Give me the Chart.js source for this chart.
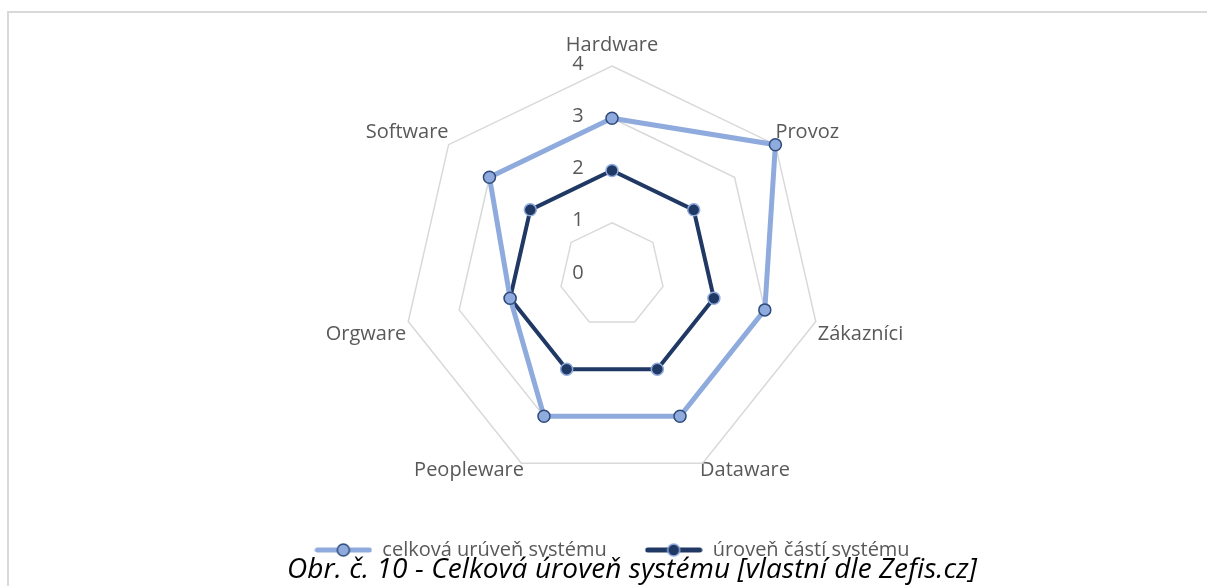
<!DOCTYPE html>
<html><head><meta charset="utf-8">
<script src="https://cdn.jsdelivr.net/npm/chart.js@4.4.1/dist/chart.umd.min.js"></script>
<style>
html,body{margin:0;padding:0;background:#fff;width:1207px;height:586px;overflow:hidden;}
#frame{position:absolute;left:7px;top:11px;width:1220px;height:600px;border-left:2px solid #d9d9d9;border-top:2px solid #d9d9d9;}
#wrap{position:absolute;left:9px;top:13px;width:1206px;height:573px;}
#cap{position:absolute;left:279px;top:557px;height:30px;padding:0 8px;background:#fff;font-family:"Open Sans";font-style:italic;font-size:28px;line-height:20px;color:#000;white-space:nowrap;letter-spacing:0.1px;}
</style></head>
<body>
<div id="frame"></div>
<div id="wrap"><canvas id="c"></canvas></div>
<div id="cap">Obr. č. 10 - Celková úroveň systému [vlastní dle Zefis.cz]</div>
<script>
const categories = ["Hardware","Provoz","Zákazníci","Dataware","Peopleware","Orgware","Software"];
const seriesNames = ["celková urúveň systému","úroveň částí systému"];
const celkova = [3,4,3,3,3,2,3];
const casti = [2,2,2,2,2,2,2];
const tickValues = [0,1,2,3,4];

const LIGHT = "#8faadc", DARK = "#203864";
const labelPad = [9, 0, 2, -6, -6, 2, 0];

function legendIcon(line, fill, border){
  const c = document.createElement("canvas");
  c.width = 58; c.height = 16;
  const g = c.getContext("2d");
  g.strokeStyle = line; g.lineWidth = 5; g.lineCap = "round";
  g.beginPath(); g.moveTo(3,8); g.lineTo(55,8); g.stroke();
  g.beginPath(); g.arc(29,8,6,0,Math.PI*2); g.fillStyle = fill; g.fill();
  g.lineWidth = 1.5; g.strokeStyle = border; g.stroke();
  return c;
}
const icons = [legendIcon(LIGHT, LIGHT, "#2f4b7c"), legendIcon(DARK, DARK, LIGHT)];

const tickPlugin = {
  id: "ticksLeft",
  afterDatasetsDraw(chart){
    const s = chart.scales.r, ctx = chart.ctx;
    ctx.save();
    ctx.font = "20px 'Open Sans'";
    ctx.fillStyle = "#595959";
    ctx.textAlign = "center"; ctx.textBaseline = "middle";
    tickValues.forEach(v => {
      const d = s.getDistanceFromCenterForValue(v);
      ctx.fillText(String(v), s.xCenter - 34, s.yCenter - d - 2);
    });
    ctx.restore();
  }
};

new Chart(document.getElementById("c"), {
  type: "radar",
  data: {
    labels: categories,
    datasets: [
      {label: seriesNames[0], data: celkova, borderColor: LIGHT, backgroundColor: LIGHT, borderWidth: 5,
       pointRadius: 6, pointBackgroundColor: LIGHT, pointBorderColor: "#2f4b7c", pointBorderWidth: 1.5, fill: false},
      {label: seriesNames[1], data: casti, borderColor: DARK, backgroundColor: DARK, borderWidth: 4,
       pointRadius: 6, pointBackgroundColor: DARK, pointBorderColor: LIGHT, pointBorderWidth: 1.5, fill: false}
    ]
  },
  options: {
    responsive: true, maintainAspectRatio: false, animation: false,
    layout: {padding: {top: 4, bottom: 16, left: 0, right: 0}},
    scales: {
      r: {
        min: 0, max: 4,
        ticks: {display: false, stepSize: 1},
        grid: {color: "#d9d9d9", lineWidth: 1.5},
        angleLines: {display: false},
        pointLabels: {font: {family: "Open Sans", size: 20}, color: "#595959",
          padding: (ctx) => labelPad[ctx.index]}
      }
    },
    plugins: {
      legend: {
        position: "bottom",
        labels: {
          usePointStyle: true, pointStyleWidth: 58, boxHeight: 16, padding: 38,
          color: "#595959", font: {family: "Open Sans", size: 20},
          generateLabels(chart){
            return chart.data.datasets.map((ds,i) => ({
              text: ds.label, pointStyle: icons[i], datasetIndex: i,
              fillStyle: ds.borderColor, strokeStyle: ds.borderColor, lineWidth: 0, hidden: false,
              fontColor: "#595959"
            }));
          }
        }
      },
      tooltip: {enabled: false}
    }
  },
  plugins: [tickPlugin]
});
</script>
</body></html>
